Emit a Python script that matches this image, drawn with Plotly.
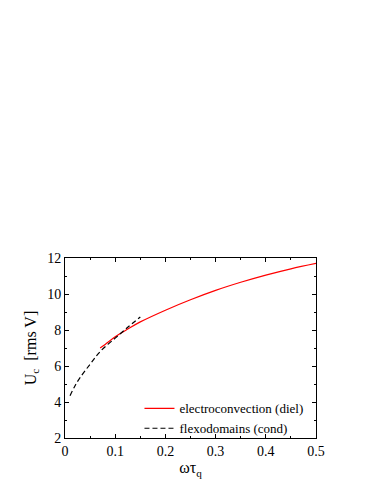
import plotly.graph_objects as go

# electroconvection (diel)
diel_x = [0.07, 0.08, 0.10, 0.125, 0.15, 0.20, 0.25, 0.30, 0.35, 0.40, 0.45, 0.50]
diel_y = [7.0, 7.2, 7.62, 8.05, 8.45, 9.1, 9.68, 10.2, 10.65, 11.05, 11.4, 11.7]

# flexodomains (cond)
cond_x = [0.01, 0.02, 0.03, 0.05, 0.07, 0.10, 0.125, 0.15]
cond_y = [4.35, 4.9, 5.35, 6.1, 6.8, 7.55, 8.15, 8.72]

x_ticks = [0, 0.1, 0.2, 0.3, 0.4, 0.5]
y_ticks = [2, 4, 6, 8, 10, 12]

font = "Liberation Serif"

fig = go.Figure()
fig.add_trace(go.Scatter(x=diel_x, y=diel_y, mode="lines", line=dict(color="#ff0000", width=1.2, shape="spline"),
                         name="electroconvection (diel)"))
fig.add_trace(go.Scatter(x=cond_x, y=cond_y, mode="lines", line=dict(color="black", width=1.2, dash="5px,3px", shape="spline"),
                         name="flexodomains (cond)"))

axis_common = dict(showgrid=False, zeroline=False, showline=True, linecolor="black", linewidth=1,
                   mirror="allticks", ticks="inside", ticklen=4, tickcolor="black", automargin=False,
                   tickfont=dict(family=font, size=14, color="black"))
fig.update_xaxes(range=[0, 0.5], tickvals=x_ticks, ticktext=[str(v) for v in x_ticks],
                 minor=dict(dtick=0.05, ticks="inside", ticklen=2, tickcolor="black"),
                 title=dict(text="ωτ<sub>q</sub>", font=dict(family=font, size=16, color="black"), standoff=4),
                 **axis_common)
fig.update_yaxes(range=[2, 12], tickvals=y_ticks,
                 minor=dict(dtick=1, ticks="inside", ticklen=2, tickcolor="black"),
                 title=dict(text="U<sub>c</sub>  [rms V]", font=dict(family=font, size=16, color="black"), standoff=6),
                 **axis_common)
fig.update_layout(width=382, height=494, margin=dict(l=57, r=74, t=250, b=64, autoexpand=False),
                  plot_bgcolor="white", paper_bgcolor="white",
                  font=dict(family=font, size=13, color="black"),
                  legend=dict(x=0.97, xanchor="right", y=-0.03, yanchor="bottom", bgcolor="rgba(0,0,0,0)",
                              font=dict(family=font, size=13, color="black"), tracegroupgap=0,
                              itemwidth=30))
fig.write_html("out.html")
